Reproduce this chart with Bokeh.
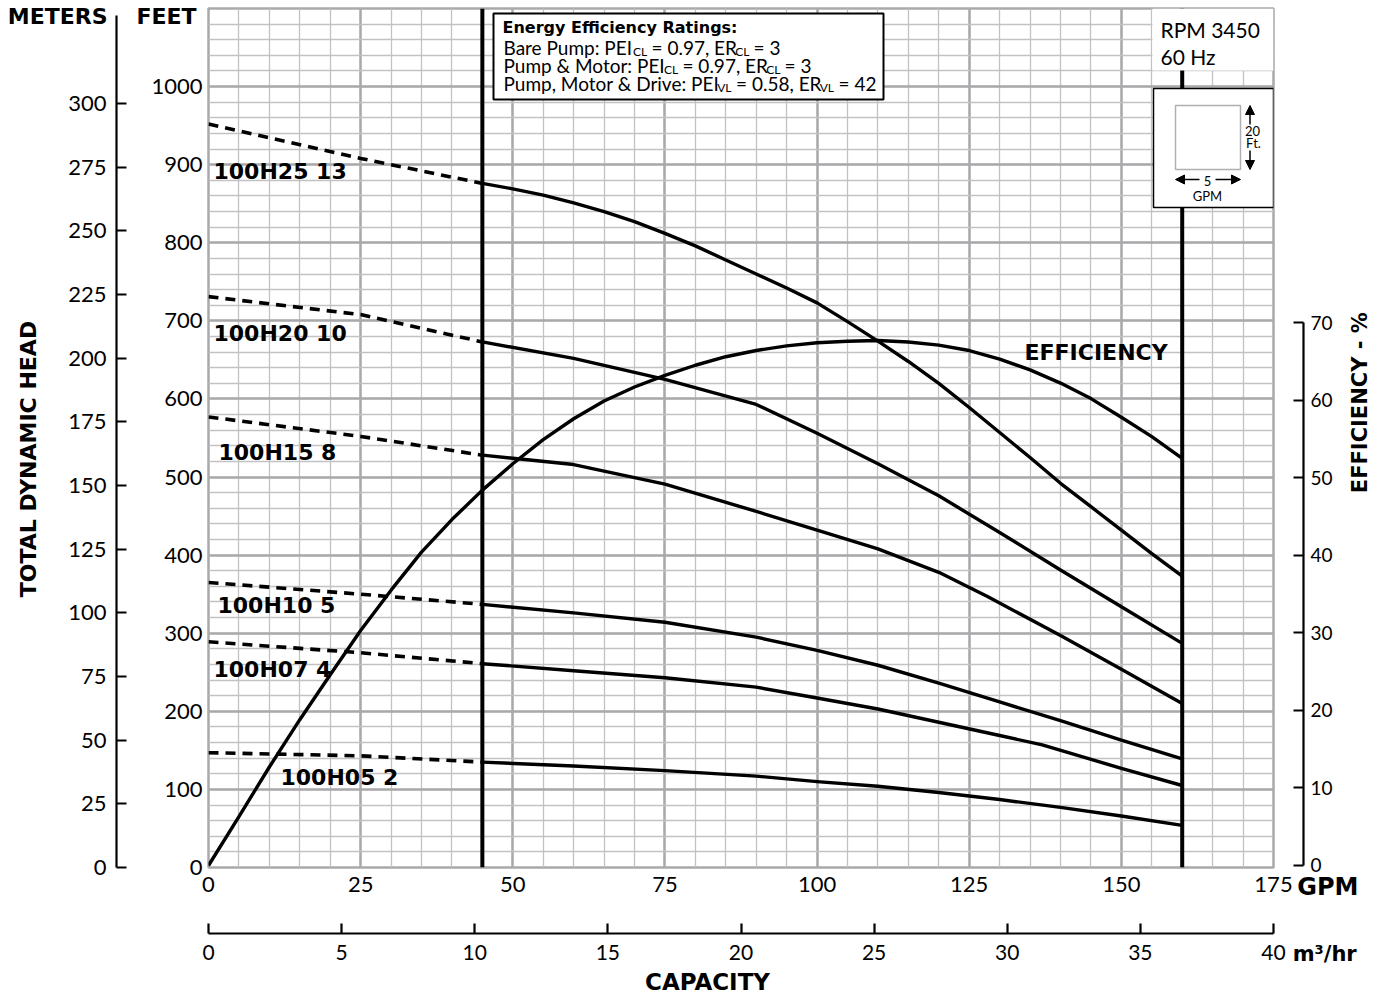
import math
from bokeh.plotting import figure
from bokeh.models import Range1d, LinearAxis, FixedTicker, SingleIntervalTicker, Label, Arrow, NormalHead
from bokeh.embed import file_html
from bokeh.resources import INLINE

# ---------------- data ----------------
gpm_ticks = [0, 25, 50, 75, 100, 125, 150, 175]
m3hr_ticks = [0, 5, 10, 15, 20, 25, 30, 35, 40]
feet_ticks = [0, 100, 200, 300, 400, 500, 600, 700, 800, 900, 1000]
meter_ticks = [0, 25, 50, 75, 100, 125, 150, 175, 200, 225, 250, 275, 300]
eff_ticks = [0, 10, 20, 30, 40, 50, 60, 70]

limit_gpm = [45, 160]          # recommended operating range limits

dash_gpm = [0, 25, 45]
h25_dash = [952, 908, 876]
h20_dash = [731, 708, 673]
h15_dash = [577, 552, 528]
h10_dash = [365, 350, 337]
h07_dash = [289, 275, 261]
h05_dash = [147, 143, 135]

h25_gpm = [45, 50, 55, 60, 65, 70, 75, 80, 85, 90, 95, 100, 105, 110, 115, 120, 125, 130, 135, 140, 145, 150, 155, 160]
h25_ft = [876, 869, 861, 851, 840, 827, 812, 796, 778, 760, 742, 723, 699, 674, 648, 620, 589, 557, 525, 492, 462, 432, 402, 373]
h20_gpm = [45, 60, 75, 90, 100, 110, 120, 130, 140, 150, 160]
h20_ft = [673, 652, 625, 593, 556, 517, 476, 429, 381, 334, 287]
h15_gpm = [45, 60, 75, 90, 100, 110, 120, 128, 140, 150, 160]
h15_ft = [528, 516, 491, 456, 432, 408, 378, 347, 297, 254, 210]
h10_gpm = [45, 60, 75, 90, 100, 110, 120, 130, 140, 150, 160]
h10_ft = [337, 326, 314, 295, 278, 259, 236, 212, 188, 163, 139]
h07_gpm = [45, 60, 75, 90, 100, 110, 120, 130, 137, 150, 160]
h07_ft = [261, 252, 243, 231, 217, 203, 186, 169, 157, 127, 105]
h05_gpm = [45, 60, 75, 90, 100, 110, 120, 130, 140, 150, 160]
h05_ft = [135, 130, 124, 117, 110, 104, 96, 87, 77, 66, 54]

eff_gpm = [0, 5, 10, 15, 20, 25, 30, 35, 40, 45, 50, 55, 60, 65, 70, 75, 80, 85, 90, 95, 100,
           105, 110, 115, 120, 125, 130, 135, 140, 145, 150, 155, 160]
eff_pct = [0, 6.3, 12.7, 18.8, 24.6, 30.3, 35.5, 40.4, 44.6, 48.4, 51.8, 54.9, 57.6, 59.9, 61.7, 63.2,
           64.5, 65.6, 66.4, 67.0, 67.4, 67.6, 67.7, 67.5, 67.1, 66.4, 65.3, 63.9, 62.2, 60.2, 57.8, 55.3, 52.5]

model_names = ["100H25 13", "100H20 10", "100H15 8", "100H10 5", "100H07 4", "100H05 2"]

# ---------------- layout ----------------
W_FRAME, H_FRAME = 1065, 859
X_MAX, Y_MAX = 175, 1100
M_MAX = 337.3
EFF_MIN, EFF_MAX = -0.26, 110.5
FX0, FY0 = 208, 867   # frame left / bottom on the page

REG = "Lato"
BOLD = "DejaVu Sans"
GRID_MAJOR = "#a9a9ac"
GRID_MINOR = "#c2c2c5"
NB = "\u00a0"


def gx(px):
    return (px - FX0) * X_MAX / W_FRAME


def fy(py):
    return (FY0 - py) * Y_MAX / H_FRAME


p = figure(frame_width=W_FRAME, frame_height=H_FRAME,
           x_range=Range1d(0, X_MAX), y_range=Range1d(0, Y_MAX),
           min_border_left=208, min_border_right=112, min_border_top=8, min_border_bottom=129,
           output_backend="svg", toolbar_location=None)
p.extra_y_ranges = {"m": Range1d(0, M_MAX), "eff": Range1d(EFF_MIN, EFF_MAX)}
p.extra_x_ranges = {"m3": Range1d(0, 40)}
p.outline_line_color = GRID_MAJOR
p.outline_line_width = 2.5
p.background_fill_color = "white"
p.border_fill_color = "white"

# grids
p.xgrid.ticker = SingleIntervalTicker(interval=25, num_minor_ticks=5)
p.ygrid.ticker = SingleIntervalTicker(interval=100, num_minor_ticks=5)
for g in (p.xgrid[0], p.ygrid[0]):
    g.grid_line_color = GRID_MAJOR
    g.grid_line_width = 2.5
    g.minor_grid_line_color = GRID_MINOR
    g.minor_grid_line_width = 1.3


def style(ax, size, tick_in=0, tick_out=0, standoff=6, line=False):
    ax.major_label_text_font = REG
    ax.major_label_text_font_size = size
    ax.major_label_text_color = "black"
    ax.major_label_standoff = standoff
    ax.major_tick_in = tick_in
    ax.major_tick_out = tick_out
    ax.minor_tick_in = 0
    ax.minor_tick_out = 0
    ax.minor_tick_line_color = None
    if line:
        ax.axis_line_color = "black"
        ax.axis_line_width = 2.2
        ax.major_tick_line_color = "black"
        ax.major_tick_line_width = 2.2
    else:
        ax.axis_line_color = None
        ax.major_tick_line_color = None


def spacer(size, **kw):
    return LinearAxis(ticker=FixedTicker(ticks=[0]), major_label_overrides={0: ""},
                      major_tick_out=size, major_tick_in=0, minor_tick_out=0, minor_tick_in=0,
                      axis_line_color=None, major_tick_line_color=None, minor_tick_line_color=None,
                      major_label_standoff=0, major_label_text_font_size="1px", **kw)


def text_axis(side, tick, text, size, standoff, orient="horizontal", **kw):
    """An invisible axis whose single tick label carries a bold heading."""
    ax = LinearAxis(ticker=FixedTicker(ticks=[tick]), major_label_overrides={tick: text},
                    major_label_orientation=orient, **kw)
    style(ax, f"{size}px", standoff=standoff)
    ax.major_label_text_font = BOLD
    ax.major_label_text_font_style = "bold"
    p.add_layout(ax, side)
    return ax


# ---- left: feet axis, FEET, spacer, meters axis, TOTAL DYNAMIC HEAD, METERS
fa = p.yaxis[0]
fa.ticker = FixedTicker(ticks=feet_ticks)
style(fa, "22px", standoff=6)
text_axis("left", 1090, "FEET", 22, -48)
p.add_layout(spacer(17), "left")
ma = LinearAxis(y_range_name="m", ticker=FixedTicker(ticks=meter_ticks), bounds=(0, 334.5))
style(ma, "22px", tick_in=10, standoff=10, line=True)
p.add_layout(ma, "left")
text_axis("left", 700, "TOTAL DYNAMIC HEAD", 22, 37, orient=math.pi / 2)
text_axis("left", 1090, "METERS", 22, -107)

# ---- below: GPM axis, GPM unit, spacer, m3/hr axis, m3/hr unit, CAPACITY
ga = p.xaxis[0]
ga.ticker = FixedTicker(ticks=gpm_ticks)
style(ga, "22px", standoff=9)
text_axis("below", 175, NB * 13 + "GPM", 24, -22)
p.add_layout(spacer(30), "below")
m3 = LinearAxis(x_range_name="m3", ticker=FixedTicker(ticks=m3hr_ticks))
style(m3, "21px", tick_in=10, standoff=11, line=True)
p.add_layout(m3, "below")
text_axis("below", 40, NB * 14 + "m³/hr", 21, -21, x_range_name="m3")
text_axis("below", 82, "CAPACITY", 23, 0)

# ---- right: spacer, efficiency axis, rotated efficiency heading
p.add_layout(spacer(30, y_range_name="eff"), "right")
ea = LinearAxis(y_range_name="eff", ticker=FixedTicker(ticks=eff_ticks), bounds=(0, 70))
style(ea, "19px", tick_in=10, standoff=7, line=True)
p.add_layout(ea, "right")
text_axis("right", 48, "EFFICIENCY - %", 21, 25, orient=math.pi / 2, y_range_name="eff")

# ---------------- marks ----------------
p.segment(x0=limit_gpm, x1=limit_gpm, y0=[0, 0], y1=[Y_MAX, Y_MAX], line_color="black", line_width=4)

# white panel behind RPM text
p.quad(left=[gx(1152)], right=[X_MAX], top=[Y_MAX], bottom=[fy(70)], fill_color="white", line_color=None)
# energy box
p.quad(left=[gx(493)], right=[gx(883)], top=[fy(13)], bottom=[fy(99)], fill_color="white",
       line_color="black", line_width=2)
# scale legend box
p.quad(left=[gx(1153)], right=[gx(1273)], top=[fy(88)], bottom=[fy(207)], fill_color="white",
       line_color="black", line_width=1.5)
p.quad(left=[gx(1175)], right=[gx(1240)], top=[fy(105)], bottom=[fy(169)], fill_color=None,
       line_color="#b0b0b3", line_width=1.5)

dashes = [h25_dash, h20_dash, h15_dash, h10_dash, h07_dash, h05_dash]
for d in dashes:
    p.line(dash_gpm, d, line_color="black", line_width=3.6, line_dash="10 7")

solids = [(h25_gpm, h25_ft), (h20_gpm, h20_ft), (h15_gpm, h15_ft),
          (h10_gpm, h10_ft), (h07_gpm, h07_ft), (h05_gpm, h05_ft)]
for gq, hf in solids:
    p.line(gq, hf, line_color="black", line_width=3.4, line_join="round")

p.line(eff_gpm, eff_pct, y_range_name="eff", line_color="black", line_width=3.4, line_join="round")


# ---------------- texts inside the frame ----------------
def lab(text, px, py, size, bold=False, align="left", baseline="middle"):
    p.add_layout(Label(x=gx(px), y=fy(py), text=text,
                       text_font=BOLD if bold else REG,
                       text_font_style="bold" if bold else "normal",
                       text_font_size=f"{size}px", text_color="black",
                       text_align=align, text_baseline=baseline))


label_pos = [(213, 171), (213, 333), (218, 452), (217, 605), (213, 669), (280, 777)]
for name, (lx, ly) in zip(model_names, label_pos):
    lab(name, lx, ly, 22, bold=True)
lab("EFFICIENCY", 1024, 352, 22, bold=True)

lab("RPM 3450", 1160, 29, 21)
lab("60 Hz", 1160, 56, 21)

# energy efficiency box text (main text 19px, subscripts 12px)
lab("Energy Efficiency Ratings:", 502, 27, 16, bold=True)
FS, SS = 19, 12
rows = [
    (47, ["Bare Pump: PEI", "CL", NB + "= 0.97, ER", "CL", NB + "= 3"], [6.82, 1.13, 4.66, 1.13]),
    (65, ["Pump & Motor: PEI", "CL", NB + "= 0.97, ER", "CL", NB + "= 3"], [8.45, 1.13, 4.66, 1.13]),
    (83, ["Pump, Motor & Drive: PEI", "VL", NB + "= 0.58, ER", "VL", NB + "= 42"], [11.25, 1.16, 4.66, 1.16]),
]
for ry, parts, ems in rows:
    xcur = 503.0
    for i, txt in enumerate(parts):
        sub = i in (1, 3)
        lab(txt, xcur, ry + (3.5 if sub else 0), SS if sub else FS)
        if i < 4:
            xcur += ems[i] * (SS if sub else FS)

# scale legend
lab("20", 1252, 130, 13, align="center")
lab("Ft.", 1253, 142, 13, align="center")
lab("5", 1207, 180, 13, align="center")
lab("GPM", 1207, 195, 13, align="center")


def arrow(x0, y0, x1, y1):
    p.add_layout(Arrow(x_start=gx(x0), y_start=fy(y0), x_end=gx(x1), y_end=fy(y1),
                       line_color="black", line_width=1.5,
                       end=NormalHead(size=9, fill_color="black", line_color="black", line_width=1)))


arrow(1249.5, 124, 1249.5, 105)
arrow(1249.5, 150, 1249.5, 169)
arrow(1199, 179, 1175, 179)
arrow(1215, 179, 1240, 179)

open("out.html", "w").write(file_html(p, INLINE))
